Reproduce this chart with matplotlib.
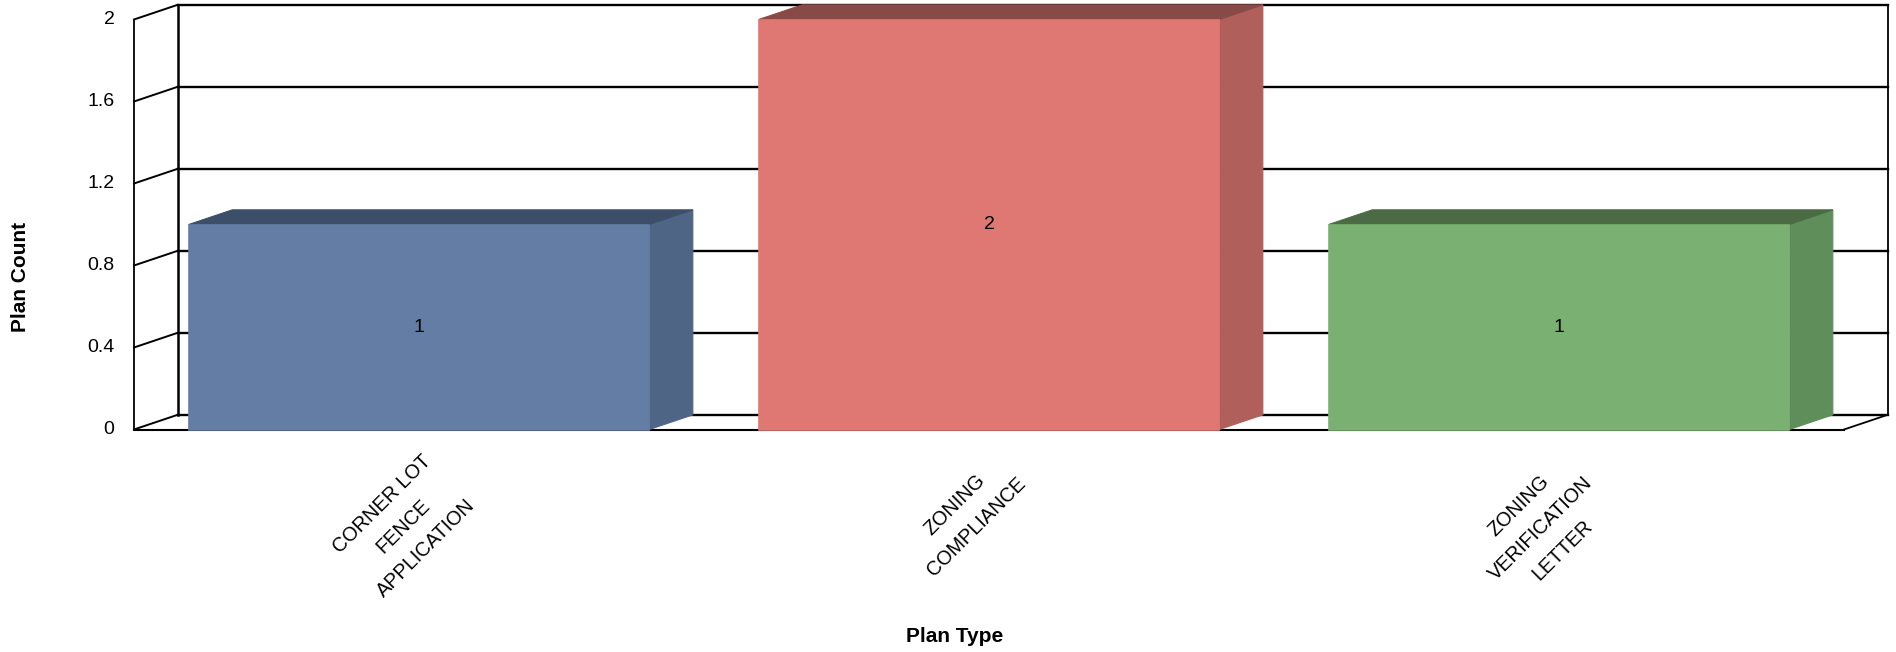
import matplotlib
matplotlib.use('Agg')
import matplotlib.pyplot as plt
from matplotlib.patches import Polygon

plt.rcParams['font.family'] = ['Liberation Sans', 'DejaVu Sans']

categories = ['CORNER LOT\nFENCE\nAPPLICATION', 'ZONING\nCOMPLIANCE', 'ZONING\nVERIFICATION\nLETTER']
counts = [1, 2, 1]
y_ticks = [0, 0.4, 0.8, 1.2, 1.6, 2]
y_tick_labels = ['0', '0.4', '0.8', '1.2', '1.6', '2']
front_colors = ['#647DA5', '#DF7873', '#7BB073']
side_colors = ['#4F6585', '#B05F5A', '#5F8E5A']
top_colors = ['#3D4E68', '#874A47', '#4B6B45']
label_offsets = [(-11, -69.5), (-17, -62), (-13, -71)]

W, H = 1896, 652
fig = plt.figure(figsize=(W / 100, H / 100), dpi=100)
ax = fig.add_axes([134 / W, 1 - 429.5 / H, (1844 - 134) / W, (429.5 - 19.5) / H])
ax.set_xlim(0, 3)
ax.set_ylim(0, 2)
ax.axis('off')

# depth of the fake 3d box, in data units
dx = 0.0764
dy = 0.0715
bar_w = 0.808
line = dict(color='black', clip_on=False, solid_capstyle='projecting')

# back wall
for t in y_ticks:
	ax.plot([dx, 3 + dx], [t + dy, t + dy], lw=1.7, zorder=1, **line)
	ax.plot([0, dx], [t, t + dy], lw=1.4, zorder=1, **line)
ax.plot([0, 0], [0, 2], lw=1.3, zorder=1, **line)
ax.plot([dx, dx], [dy, 2 + dy], lw=1.8, zorder=1, **line)
ax.plot([3 + dx, 3 + dx], [dy, 2 + dy], lw=1.3, zorder=1, **line)
# floor
ax.plot([0, 3], [0, 0], lw=1.5, zorder=1, **line)
ax.plot([3, 3 + dx], [0, dy], lw=1.3, zorder=1, **line)

for i, c in enumerate(counts):
	l = i + 0.5 - bar_w / 2
	r = i + 0.5 + bar_w / 2
	ax.bar(i + 0.5, c, width=bar_w, color=front_colors[i], edgecolor=front_colors[i], lw=1.2, zorder=3, clip_on=False)
	ax.add_patch(Polygon([(r, 0), (r + dx, dy), (r + dx, c + dy), (r, c)], color=side_colors[i], lw=0.8, zorder=2, clip_on=False))
	ax.add_patch(Polygon([(l, c), (l + dx, c + dy), (r + dx, c + dy), (r, c)], color=top_colors[i], lw=0.8, zorder=2, clip_on=False))
	ax.text(i + 0.5, c / 2, str(c), ha='center', va='center', fontsize=14, zorder=4)
	ax.annotate(categories[i], (i + 0.5, 0), xytext=label_offsets[i], textcoords='offset points',
		rotation=45, ha='center', va='center', multialignment='center', fontsize=14.3, linespacing=1.8)

for t, s in zip(y_ticks, y_tick_labels):
	ax.annotate(s, (0, t), xytext=(-14, 0), textcoords='offset points', ha='right', va='center', fontsize=14)

fig.text(955 / W, 1 - 637 / H, 'Plan Type', ha='center', va='center', fontsize=15, fontweight='bold')
fig.text(21 / W, 1 - 277 / H, 'Plan Count', ha='center', va='center', rotation=90, fontsize=15, fontweight='bold')

fig.savefig('out.png', dpi=100)
